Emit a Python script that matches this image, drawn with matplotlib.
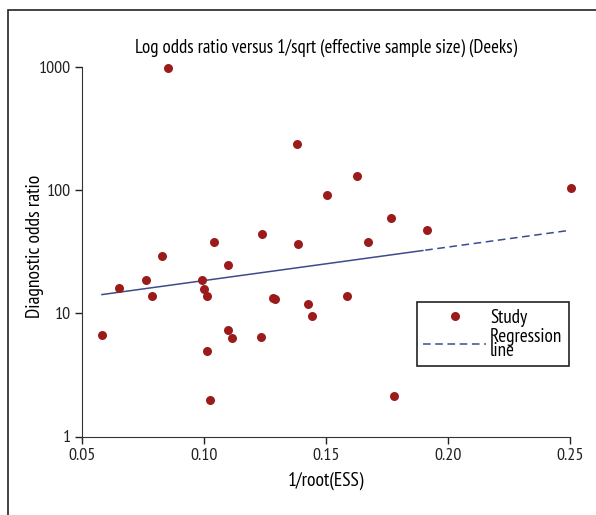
import matplotlib
matplotlib.use('Agg')
import matplotlib.pyplot as plt
import numpy as np
from matplotlib.patches import Rectangle

# Données (Deeks funnel plot)
study_x = [0.0852, 0.1383, 0.1626, 0.1503, 0.2506, 0.1765, 0.1913, 0.1042,
           0.1238, 0.1386, 0.1674, 0.0827, 0.1101, 0.0651, 0.0765, 0.0992,
           0.1000, 0.0788, 0.1014, 0.1285, 0.1290, 0.1587, 0.1427, 0.1444,
           0.0583, 0.1098, 0.1117, 0.1234, 0.1014, 0.1026, 0.1779]
study_dor = [990, 236, 130, 91.6, 105, 58.9, 47.6, 38.1,
             43.7, 36.7, 37.9, 29.4, 24.6, 16.1, 18.5, 18.7,
             15.7, 13.7, 13.8, 13.4, 13.1, 13.7, 12.0, 9.46,
             6.65, 7.38, 6.32, 6.37, 4.91, 1.99, 2.13]

reg_x = [0.0583, 0.2506]
reg_y = [14.2, 47.4]

x_ticks = [0.05, 0.10, 0.15, 0.20, 0.25]
x_labels = ['0.05', '0.10', '0.15', '0.20', '0.25']
y_ticks = [1, 10, 100, 1000]
y_labels = ['1', '10', '100', '1000']

plt.rcParams['font.family'] = ['PT Sans Narrow', 'DejaVu Sans']

W, H = 596, 515
fig = plt.figure(figsize=(W / 100, H / 100), dpi=100)
ax = fig.add_axes([81.7 / W, 1 - 436.5 / H, (570 - 81.7) / W, (436.5 - 67) / H])

dot_color = '#9b1b1b'
line_color = '#3d4b8e'

# cadre autour de la figure
fig.patches.append(Rectangle((8 / W, -0.1), 1.2, 1 - 10 / H + 0.1, transform=fig.transFigure,
                             fill=False, edgecolor='#222222', linewidth=1.2))

# droite de régression (calculée en échelle log)
xs = np.linspace(reg_x[0], reg_x[1], 200)
ly = np.interp(xs, reg_x, np.log10(reg_y))
ys = 10 ** ly
split = xs <= 0.19
ax.plot(xs[split], ys[split], '-', color=line_color, linewidth=1.1)
ax.plot(xs[~split], ys[~split], '--', color=line_color, linewidth=1.1, dashes=(5, 3))

ax.scatter(study_x, study_dor, s=42, color=dot_color, zorder=3, clip_on=False, linewidths=0)

ax.set_yscale('log')
ax.set_xlim(0.05, 0.25)
ax.set_ylim(1, 1000)
ax.set_xticks(x_ticks)
ax.set_xticklabels(x_labels)
ax.set_yticks(y_ticks)
ax.set_yticklabels(y_labels)
ax.minorticks_off()
ax.tick_params(axis='both', direction='out', length=5, width=1, labelsize=13, colors='#222222', pad=3)
for s in ['top', 'right']:
    ax.spines[s].set_visible(False)
for s in ['left', 'bottom']:
    ax.spines[s].set_color('#333333')

ax.set_xlabel('1/root(ESS)', fontsize=14, labelpad=6)
ax.set_ylabel('Diagnostic odds ratio', fontsize=14)
ax.yaxis.set_label_coords(-0.077, 0.514)
ax.set_title('Log odds ratio versus 1/sqrt (effective sample size) (Deeks)', fontsize=13.6, pad=10)

h_dot, = ax.plot([], [], 'o', color=dot_color, markersize=6.5, markeredgewidth=0)
h_line, = ax.plot([], [], '--', color=line_color, linewidth=1.1, dashes=(5, 3))
leg = fig.legend([h_dot, h_line], ['Study', 'Regression\nline'], loc='upper left',
                 bbox_to_anchor=(416.5 / W, 1 - 302 / H), bbox_transform=fig.transFigure,
                 fontsize=13.8, frameon=True, fancybox=False, borderaxespad=0,
                 handlelength=3.3, handletextpad=0.18, labelspacing=0.05,
                 borderpad=0.35, framealpha=1)
leg.get_frame().set_edgecolor('#222222')
leg.get_frame().set_linewidth(1.2)
for t in leg.get_texts():
    t.set_linespacing(0.72)

fig.savefig('out.png', dpi=100)
